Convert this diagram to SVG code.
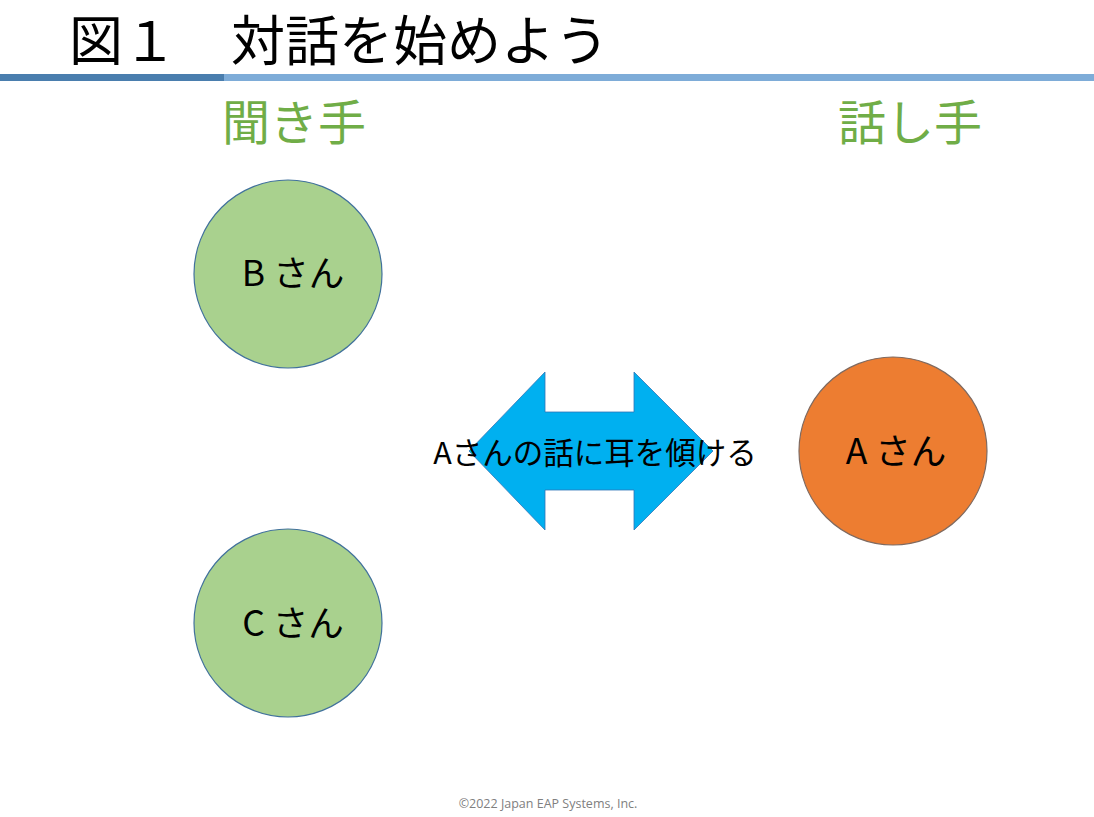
<svg xmlns="http://www.w3.org/2000/svg" width="1094" height="817" viewBox="0 0 1094 817">
<style>
.jp{font-family:"Noto Sans CJK JP","Liberation Sans",sans-serif;}
.title{font-size:54px;fill:#000;}
.head{font-size:48px;fill:#70ad47;}
.lbl{font-size:35.5px;fill:#000;text-anchor:middle;}
.node circle{stroke:#41719c;stroke-width:1.2;}
.foot{font-family:"Open Sans","Liberation Sans",sans-serif;font-size:12.5px;fill:#808080;text-anchor:middle;}
</style>
<rect width="1094" height="817" fill="#fff"/>
<text class="jp title" x="69" y="61">図１　対話を始めよう</text>
<rect x="0" y="74" width="224" height="7" fill="#4a7eae"/>
<rect x="224" y="74" width="870" height="7" fill="#7eacd8"/>
<text class="jp head" x="222" y="140">聞き手</text>
<text class="jp head" x="838" y="140">話し手</text>
<g id="nodeB" class="node"><circle cx="288" cy="274" r="94" fill="#a9d18e"/><text class="jp lbl" x="293" y="286">B さん</text></g>
<g id="nodeC" class="node"><circle cx="288" cy="623" r="94" fill="#a9d18e"/><text class="jp lbl" x="293" y="636">C さん</text></g>
<g id="nodeA" class="node"><circle cx="893" cy="451" r="94" fill="#ed7d31" style="stroke:#7f6a60"/><text class="jp lbl" x="896" y="464">A さん</text></g>
<g id="connectors"><g id="arrow">
<polygon points="469,451 545,372 545,412 634,412 634,372 713,451 634,530 634,490 545,490 545,530" fill="#00b0f0" stroke="#2e75b6" stroke-width="0.8"/>
<text class="jp" x="595" y="464" font-size="30.5" text-anchor="middle" fill="#000">Aさんの話に耳を傾ける</text>
</g></g>
<text class="foot" x="548" y="808">©2022 Japan EAP Systems, Inc.</text>
</svg>
